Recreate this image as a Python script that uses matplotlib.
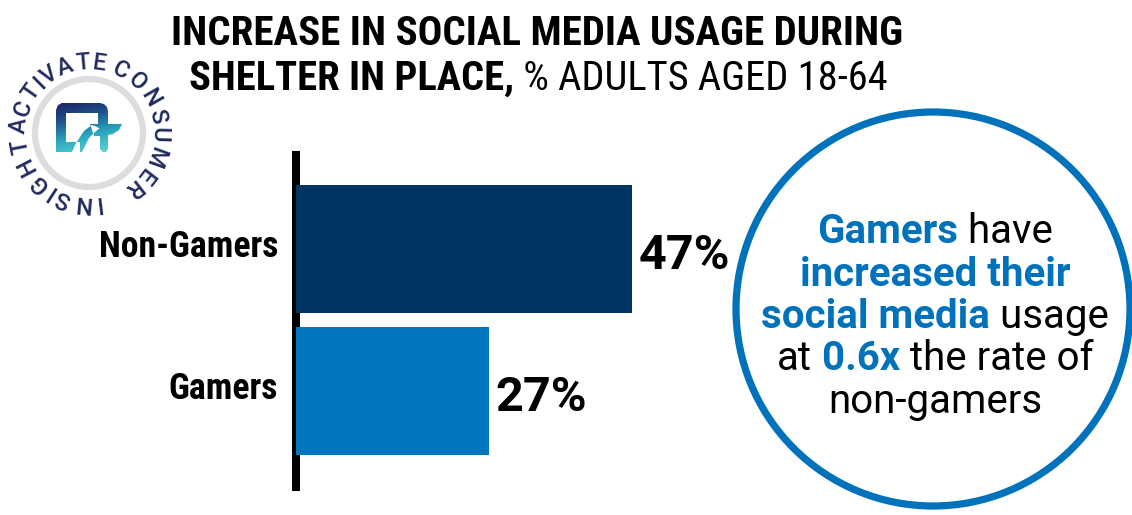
import matplotlib
matplotlib.use('Agg')
import matplotlib.pyplot as plt
from matplotlib.patches import Circle, PathPatch
from matplotlib.path import Path
from matplotlib.font_manager import FontProperties, fontManager
from matplotlib.colors import LinearSegmentedColormap
import numpy as np

# ---------------- data ----------------
categories = ['Gamers', 'Non-Gamers']
values = [27, 47]
value_labels = ['27%', '47%']
bar_colors = ['#0075bd', '#003462']
title_line1 = 'INCREASE IN SOCIAL MEDIA USAGE DURING'
title_line2 = [('SHELTER IN PLACE,', True), (' % ADULTS AGED 18-64', False)]
callout_lines = [
    [('Gamers', True), (' have', False)],
    [('increased their', True)],
    [('social media', True), (' usage', False)],
    [('at', False), (' 0.6x', True), (' the rate of', False)],
    [('non-gamers', False)],
]
logo_words = ['ACTIVATE', 'CONSUMER', 'INSIGHT']

# ---------------- fonts ----------------
avail = {f.name for f in fontManager.ttflist}
cond = next((n for n in ['Roboto Condensed', 'Liberation Sans Narrow', 'Open Sans Condensed',
                         'Noto Sans Condensed', 'Arial Narrow'] if n in avail), None)
NARROW = [cond, 'Roboto', 'DejaVu Sans'] if cond else ['Roboto', 'DejaVu Sans']
ROBOTO = ['Roboto', 'DejaVu Sans']
BLUE = '#0072bc'

# ---------------- layout ----------------
W, H = 1132, 515
fig = plt.figure(figsize=(W / 100, H / 100), dpi=100)
renderer = fig.canvas.get_renderer()

ov = fig.add_axes([0, 0, 1, 1])
ov.axis('off')
ov.set_xlim(0, W)
ov.set_ylim(H, 0)


def seg_line(segs, cx, y, size, family, color_bold, color_reg, target=None):
    texts = []
    for s, bold in segs:
        t = ov.text(0, y, s, fontsize=size, family=family,
                    fontweight='bold' if bold else 'normal',
                    color=color_bold if bold else color_reg,
                    ha='left', va='baseline')
        texts.append(t)
    widths = [t.get_window_extent(renderer).width for t in texts]
    if target is not None:
        k = target / sum(widths)
        for t in texts:
            t.set_fontsize(size * k)
        widths = [t.get_window_extent(renderer).width for t in texts]
    x = cx - sum(widths) / 2
    for t, w in zip(texts, widths):
        t.set_x(x)
        x += w


# title (fitted to the reference width)
seg_line([(title_line1, True)], 537, 45, 29, NARROW, 'black', 'black', target=730)
seg_line(title_line2, 538, 90, 29, NARROW, 'black', 'black', target=697)

# callout circle
ov.add_patch(Circle((933, 309), 197, fill=False, ec=BLUE, lw=5.2, clip_on=True))
baselines = [243, 286, 328, 370, 413]
for segs, yb in zip(callout_lines, baselines):
    seg_line(segs, 935, yb, 29, ROBOTO, BLUE, 'black')

# ---------------- logo ----------------
lcx, lcy = 89, 133
ov.add_patch(Circle((lcx, lcy), 54, fill=False, ec='#dcdddf', lw=4.5))
lprop = FontProperties(family=ROBOTO, size=17, weight=500)
word_spans = [(174, 82), (63, -52), (-83, -169)]
for word, (a0, a1) in zip(logo_words, word_spans):
    ws = [renderer.get_text_width_height_descent(c, lprop, ismath=False)[0] for c in word]
    centers = np.cumsum([0] + [(ws[i] + ws[i + 1]) / 2 for i in range(len(ws) - 1)])
    frac = centers / centers[-1]
    for c, f in zip(word, frac):
        ang = a0 + (a1 - a0) * f
        r = 70
        x = lcx + r * np.cos(np.radians(ang))
        y = lcy - r * np.sin(np.radians(ang))
        ov.text(x, y, c, fontproperties=lprop, color='#1f2a5c', rotation=ang - 90,
                rotation_mode='anchor', ha='center', va='center')

# logo icon (gradient clipped shape)
polys = [
    [(56, 110), (58, 105), (63, 103), (66, 103), (66, 152), (61, 152), (57, 149), (56, 145)],
    [(61, 103), (101, 103), (101, 113), (61, 113)],
    [(99, 103), (104, 104), (107, 107), (108, 111), (108, 128), (98, 128), (98, 103)],
    [(56, 142), (80, 142), (80, 152), (56, 152)],
    [(72, 152), (82, 152), (89, 138), (95, 132), (100, 128), (92, 125), (84, 131), (76, 143)],
    [(90, 124), (122, 124), (119, 130), (113, 134), (104, 136), (94, 136)],
    [(100, 128), (108, 128), (108, 149), (106, 152), (103, 152), (100, 149)],
]
verts, codes = [], []
for p in polys:
    verts += p + [p[0]]
    codes += [Path.MOVETO] + [Path.LINETO] * (len(p) - 1) + [Path.CLOSEPOLY]
icon_patch = PathPatch(Path(verts, codes), fc='none', ec='none', transform=ov.transData)
ov.add_patch(icon_patch)
gy, gx = np.mgrid[0:1:100j, 0:1:100j]
grad = np.clip(0.85 * gy + 0.25 * gx, 0, 1)
cmap = LinearSegmentedColormap.from_list('logo', ['#1b1f5e', '#1f4f8a', '#2aa6bf', '#5ed3d0'])
im = ov.imshow(grad, extent=[54, 124, 154, 101], cmap=cmap, aspect='auto',
               interpolation='bilinear', origin='upper')
im.set_clip_path(icon_patch)
ov.set_xlim(0, W)
ov.set_ylim(H, 0)

# ---------------- bars ----------------
px = 7.16
x0 = 295.5
ax = fig.add_axes([x0 / W, (H - 487) / H, 60 * px / W, 332 / H])
ax.patch.set_alpha(0)
ypos = np.arange(len(categories))
ax.barh(ypos, values, height=0.9, color=bar_colors, zorder=3)
ax.set_xlim(0, 60)
ax.set_ylim(-0.676, 1.662)
for s in ['top', 'right', 'bottom']:
    ax.spines[s].set_visible(False)
ax.spines['left'].set_linewidth(5.8)
ax.spines['left'].set_color('black')
ax.set_xticks([])
ax.set_yticks([])

# category labels (fitted to the reference width of "Non-Gamers", 180 px)
cat_texts = []
for y, c in zip(ypos, categories):
    t = ax.annotate(c, (0, y), xytext=(-12.6, -5.4), textcoords='offset points',
                    ha='right', va='baseline', fontsize=26, fontweight='bold',
                    family=NARROW, color='black', annotation_clip=False)
    cat_texts.append(t)
wmax = max(t.get_window_extent(renderer).width for t in cat_texts)
for t in cat_texts:
    t.set_fontsize(26 * 180 / wmax)

for y, v, lbl in zip(ypos, values, value_labels):
    ax.annotate(lbl, (v, y), xytext=(5, -14.5), textcoords='offset points',
                ha='left', va='baseline', fontsize=35, fontweight='bold',
                family=ROBOTO, color='black', annotation_clip=False)

fig.savefig('out.png', dpi=100)
